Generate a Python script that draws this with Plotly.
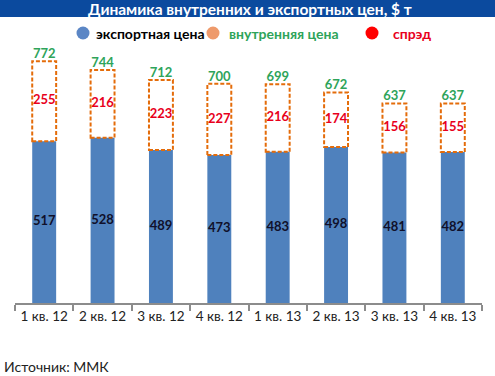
import plotly.graph_objects as go

categories = ["1 кв. 12", "2 кв. 12", "3 кв. 12", "4 кв. 12",
              "1 кв. 13", "2 кв. 13", "3 кв. 13", "4 кв. 13"]
export_price = [517, 528, 489, 473, 483, 498, 481, 482]
spread = [255, 216, 223, 227, 216, 174, 156, 155]
domestic_price = [772, 744, 712, 700, 699, 672, 637, 637]

title_text = "Динамика внутренних и экспортных цен, $ т"
legend_names = ["экспортная цена", "внутренняя цена", "спрэд"]
source_text = "Источник: ММК"

BLUE = "#4F81BD"
ORANGE_LINE = "#E46C0A"
GREEN = "#2EA45A"
RED = "#E8001C"
FONT = "Lato"

# plot area geometry (pixels)
W, H = 495, 376
L, R, T, B = 15, 13, 40, 73
PW = W - L - R
PH = H - T - B


def px_x(p):
    return (p - L) / PW


def px_y(p):
    return (H - B - p) / PH


bw = 0.41

fig = go.Figure()
fig.add_bar(x=categories, y=export_price, width=bw, marker_color=BLUE,
            marker_line_width=0, showlegend=False, hoverinfo="x+y")

# labels
fig.add_scatter(x=categories, y=[v / 2 for v in export_price], mode="text",
                text=[f"<b>{v}</b>" for v in export_price],
                textfont=dict(family=FONT, size=13, color="#10102a"),
                showlegend=False, hoverinfo="skip")
fig.add_scatter(x=categories, y=[e + s / 2 for e, s in zip(export_price, spread)],
                mode="text", text=[f"<b>{v}</b>" for v in spread],
                textfont=dict(family=FONT, size=13, color=RED),
                showlegend=False, hoverinfo="skip")
fig.add_scatter(x=categories, y=domestic_price, mode="text",
                text=[f"<b>{v}</b>" for v in domestic_price],
                textposition="top center",
                textfont=dict(family=FONT, size=13, color=GREEN),
                showlegend=False, hoverinfo="skip")

shapes = []
for i, (e, d) in enumerate(zip(export_price, domestic_price)):
    shapes.append(dict(type="rect", xref="x", yref="y", x0=i - bw / 2, x1=i + bw / 2,
                       y0=e, y1=d, line=dict(color=ORANGE_LINE, width=2, dash="4px,2px"),
                       fillcolor="rgba(0,0,0,0)", layer="above"))

# title band
shapes.append(dict(type="rect", xref="paper", yref="paper",
                   x0=px_x(0), x1=px_x(W), y0=px_y(17), y1=px_y(0),
                   fillcolor="#0B4A9E", line=dict(width=0), layer="above"))

# legend circles
legend_colors = ["#5B86C5", "#EE9A6B", "#FF0000"]
legend_cx = [83, 213, 372]
legend_tx = [94, 227, 391]
legend_text_colors = ["#000000", GREEN, RED]
cy = 33
for c, cx in zip(legend_colors, legend_cx):
    shapes.append(dict(type="circle", xref="paper", yref="paper",
                       xsizemode="pixel", ysizemode="pixel",
                       xanchor=px_x(cx), yanchor=px_y(cy),
                       x0=-6.5, x1=6.5, y0=-6.5, y1=6.5,
                       fillcolor=c, line=dict(width=0)))

annotations = [
    dict(text=f"<b>{title_text}</b>", xref="paper", yref="paper",
         x=px_x(250), y=px_y(9), xanchor="center", yanchor="middle",
         showarrow=False, font=dict(family=FONT, size=15.5, color="white")),
    dict(text=source_text, xref="paper", yref="paper",
         x=px_x(2), y=px_y(366), xanchor="left", yanchor="middle",
         showarrow=False, font=dict(family=FONT, size=14, color="#222222")),
]
for name, tx, tc in zip(legend_names, legend_tx, legend_text_colors):
    annotations.append(dict(text=f"<b>{name}</b>", xref="paper", yref="paper",
                            x=px_x(tx), y=px_y(cy), xanchor="left", yanchor="middle",
                            showarrow=False, font=dict(family=FONT, size=14, color=tc)))

fig.update_layout(
    width=W, height=H,
    margin=dict(l=L, r=R, t=T, b=B, pad=0),
    paper_bgcolor="white", plot_bgcolor="white",
    barmode="overlay",
    shapes=shapes, annotations=annotations,
    showlegend=False,
    xaxis=dict(type="category", showgrid=False, showline=True, linecolor="#8c8c8c",
               linewidth=2, ticks="outside", tickson="boundaries", ticklen=6,
               tickcolor="#8c8c8c", tickwidth=2,
               tickfont=dict(family=FONT, size=13.5, color="#222222"),
               range=[-0.5, len(categories) - 0.5], fixedrange=True),
    yaxis=dict(range=[0, 840], visible=False, showgrid=False, fixedrange=True),
)

fig.write_html("out.html", config={"displayModeBar": False},
               post_script="document.body.style.margin='0';")
